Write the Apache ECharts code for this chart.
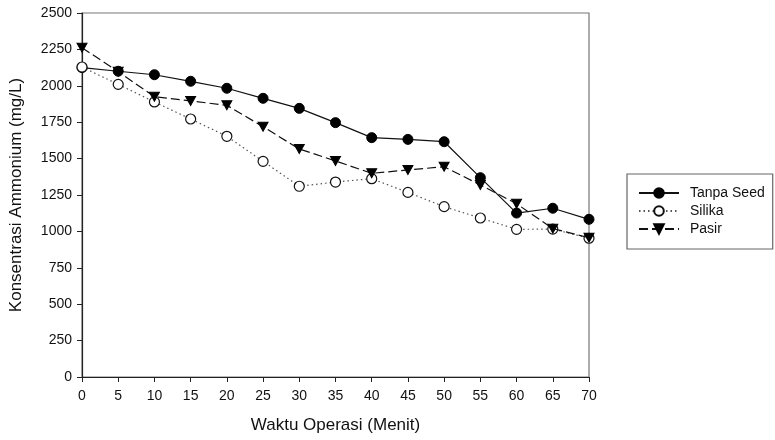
<!DOCTYPE html>
<html>
<head>
<meta charset="utf-8">
<script src="https://cdn.jsdelivr.net/npm/echarts@6/dist/echarts.min.js"></script>
<style>html,body{margin:0;padding:0;background:#fff}#c{width:775px;height:440px}</style>
</head>
<body>
<div id="c"></div>
<script>
var waktu = [0, 5, 10, 15, 20, 25, 30, 35, 40, 45, 50, 55, 60, 65, 70];
var tanpaSeed = [2125, 2100, 2076, 2031, 1983, 1914, 1845, 1747, 1644, 1632, 1616, 1369, 1126, 1159, 1083];
var silika = [2129, 2010, 1889, 1772, 1653, 1481, 1310, 1339, 1362, 1268, 1170, 1092, 1014, 1016, 953];
var pasir = [2262, 2097, 1925, 1896, 1866, 1719, 1566, 1484, 1399, 1422, 1444, 1319, 1190, 1019, 957];
var seriesNames = ['Tanpa Seed', 'Silika', 'Pasir'];
var xAxisTitle = 'Waktu Operasi (Menit)';
var yAxisTitle = 'Konsentrasi Ammonium (mg/L)';

function pairs(vals) { return waktu.map(function (t, i) { return [t, vals[i]]; }); }

var font = 'Liberation Sans, Arial, sans-serif';
var chart = echarts.init(document.getElementById('c'), null, { renderer: 'canvas' });
chart.setOption({
  animation: false,
  backgroundColor: '#fff',
  textStyle: { fontFamily: font },
  grid: { left: 81, top: 13, right: 186, bottom: 63, show: true, borderColor: '#777', borderWidth: 1.2, containLabel: false },
  legend: {
    orient: 'vertical',
    left: 627, top: 174,
    padding: [12, 8, 13, 11],
    itemWidth: 40, itemHeight: 12, itemGap: 4,
    borderColor: '#666', borderWidth: 1.2,
    textStyle: { fontSize: 14, color: '#111', fontFamily: font, padding: [0, 0, 0, 6] },
    data: seriesNames
  },
  xAxis: {
    type: 'value', min: 0, max: 70, interval: 5,
    name: xAxisTitle, nameLocation: 'middle', nameGap: 40,
    nameTextStyle: { fontSize: 17, color: '#111', fontFamily: font },
    axisLine: { lineStyle: { color: '#222', width: 1.2 } },
    axisTick: { show: true, length: 5, lineStyle: { color: '#222' } },
    axisLabel: { fontSize: 14, color: '#111', margin: 12 },
    splitLine: { show: false }
  },
  yAxis: {
    type: 'value', min: 0, max: 2500, interval: 250,
    name: yAxisTitle, nameLocation: 'middle', nameGap: 57,
    nameTextStyle: { fontSize: 17, color: '#111', fontFamily: font },
    axisLine: { show: true, lineStyle: { color: '#222', width: 1.2 } },
    axisTick: { show: true, length: 5, lineStyle: { color: '#222' } },
    axisLabel: { fontSize: 14, color: '#111', margin: 10, formatter: function (v) { return String(v); } },
    splitLine: { show: false }
  },
  series: [
    {
      name: seriesNames[0], type: 'line', data: pairs(tanpaSeed),
      symbol: 'circle', symbolSize: 10,
      lineStyle: { color: '#111', width: 1.2, type: 'solid' },
      itemStyle: { color: '#000', borderColor: '#000', borderWidth: 1 },
      z: 3
    },
    {
      name: seriesNames[1], type: 'line', data: pairs(silika),
      symbol: 'circle', symbolSize: 10,
      lineStyle: { color: '#555', width: 1.2, type: [1.5, 3] },
      itemStyle: { color: '#fff', borderColor: '#111', borderWidth: 1.2 },
      z: 4
    },
    {
      name: seriesNames[2], type: 'line', data: pairs(pasir),
      symbol: 'triangle', symbolSize: [10, 9], symbolRotate: 180,
      lineStyle: { color: '#111', width: 1.2, type: [9, 4] },
      itemStyle: { color: '#000', borderColor: '#000', borderWidth: 1 },
      z: 5
    }
  ]
});
</script>
</body>
</html>
